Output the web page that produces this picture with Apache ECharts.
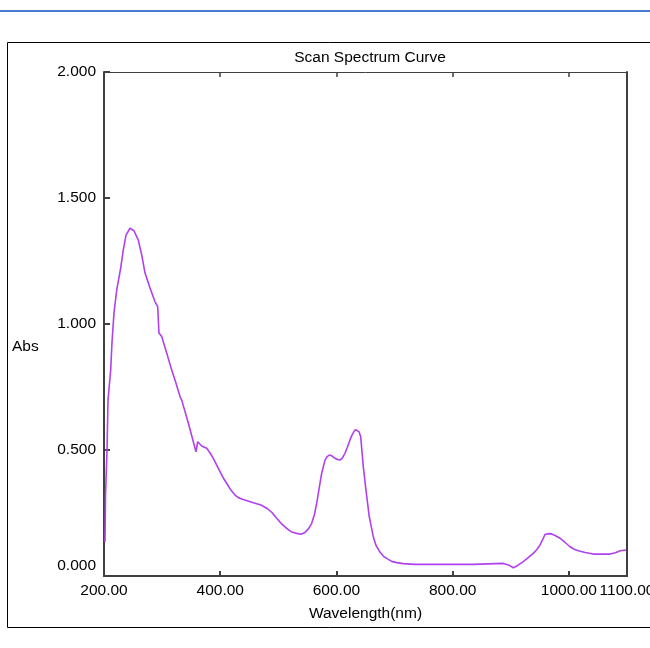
<!DOCTYPE html>
<html>
<head>
<meta charset="utf-8">
<script src="https://cdn.jsdelivr.net/npm/echarts@6/dist/echarts.min.js"></script>
<style>
  html, body { margin: 0; padding: 0; background: #fff; }
  #chart { width: 650px; height: 648px; }
</style>
</head>
<body>
<div id="chart"></div>
<script>
// wavelength (nm) and absorbance
const wavelength = [
  201.7, 202.6, 205.2, 206.9, 211.5, 213.8, 217.2, 221.9, 228.7, 233.2,
  237.9, 244.7, 251.6, 259.0, 264.9, 270.6, 279.2, 287.8, 292.4, 294.6,
  299.3, 307.9, 316.5, 322.2, 330.8, 333.7, 345.1, 353.7, 358.3, 361.2,
  368.1, 376.7, 382.0, 388.1, 393.5, 399.6, 405.0, 411.1, 418.0, 425.4,
  432.0, 439.7, 456.9, 470.0, 480.0, 489.0, 497.2, 505.0, 514.4, 522.0,
  531.6, 539.0, 545.9, 552.0, 557.4, 562.0, 566.0, 570.0, 574.6, 580.3,
  584.0, 587.7, 592.0, 597.5, 602.0, 606.1, 610.0, 614.7, 619.0, 623.3,
  627.0, 630.2, 633.0, 635.9, 639.0, 641.7, 646.2, 650.8, 656.5, 663.4,
  668.0, 674.9, 681.0, 689.2, 695.0, 703.7, 715.0, 735.2, 835.5, 838.4,
  887.1, 896.0, 904.3, 912.0, 921.5, 930.0, 938.7, 945.0, 950.3, 955.0,
  958.9, 964.0, 970.4, 977.0, 984.7, 993.0, 1001.9, 1009.0, 1016.2, 1028.0,
  1042.0, 1070.7, 1080.0, 1088.4, 1098.3
];
const absorbance = [
  0.135, 0.321, 0.500, 0.698, 0.817, 0.929, 1.044, 1.135, 1.222, 1.294,
  1.353, 1.380, 1.370, 1.333, 1.274, 1.202, 1.143, 1.088, 1.069, 0.964,
  0.950, 0.885, 0.817, 0.778, 0.712, 0.698, 0.607, 0.533, 0.493, 0.533,
  0.516, 0.507, 0.490, 0.467, 0.442, 0.414, 0.390, 0.368, 0.342, 0.321,
  0.310, 0.304, 0.291, 0.282, 0.269, 0.252, 0.229, 0.208, 0.189, 0.176,
  0.169, 0.166, 0.173, 0.188, 0.209, 0.243, 0.288, 0.345, 0.408, 0.460,
  0.474, 0.480, 0.477, 0.467, 0.462, 0.460, 0.468, 0.487, 0.512, 0.540,
  0.560, 0.573, 0.581, 0.582, 0.572, 0.553, 0.434, 0.341, 0.235, 0.156,
  0.122, 0.095, 0.078, 0.066, 0.058, 0.053, 0.049, 0.046, 0.046, 0.052,
  0.050, 0.044, 0.033, 0.042, 0.057, 0.073, 0.090, 0.105, 0.123, 0.145,
  0.165, 0.168, 0.167, 0.160, 0.150, 0.134, 0.116, 0.106, 0.100, 0.093,
  0.087, 0.087, 0.092, 0.100, 0.103
];

let myChart = echarts.init(document.getElementById("chart"));
let font = "Liberation Sans";
let axisColor = "#404040";
let fontSize = 15.5;

let option = {
  animation: false,
  title: {
    text: "Scan Spectrum Curve",
    left: 365,
    top: 45,
    textAlign: "center",
    textStyle: { fontFamily: font, fontSize: fontSize, fontWeight: "normal", color: "#000" },
  },
  graphic: [
    { type: "line", shape: { x1: 0, y1: 11, x2: 650, y2: 11 }, style: { stroke: "#4a7ad0", lineWidth: 2 } },
    { type: "rect", shape: { x: 7.5, y: 42.5, width: 700, height: 585 }, style: { fill: "none", stroke: "#000", lineWidth: 1 } },
    { type: "text", left: 12, top: 339, style: { text: "Abs", font: fontSize + "px " + font, fill: "#000" } },
  ],
  // label "1100.00" runs off the right edge, as in the original, so no auto shrinking
  grid: { left: 104, top: 72, width: 523, height: 504, outerBoundsMode: "none", containLabel: false },
  xAxis: [
    {
      type: "value",
      min: 200,
      max: 1100,
      interval: 200,
      name: "Wavelength(nm)",
      nameLocation: "middle",
      nameGap: 30,
      nameTextStyle: { fontFamily: font, fontSize: fontSize, color: "#000" },
      axisLine: { onZero: false, lineStyle: { color: axisColor, width: 2 } },
      axisTick: { inside: true, length: 5, lineStyle: { color: axisColor, width: 2 } },
      axisLabel: {
        fontFamily: font, fontSize: fontSize, color: "#000", margin: 7,
        formatter: (v) => v.toFixed(2),
      },
      splitLine: { show: false },
    },
    {
      type: "value",
      position: "top",
      min: 200,
      max: 1100,
      interval: 200,
      axisLine: { onZero: false, lineStyle: { color: axisColor, width: 1 } },
      axisTick: { inside: true, length: 5, lineStyle: { color: axisColor, width: 1.5 } },
      axisLabel: { show: false },
      splitLine: { show: false },
    },
  ],
  yAxis: [
    {
      type: "value",
      min: 0,
      max: 2,
      interval: 0.5,
      axisLine: { show: true, onZero: false, lineStyle: { color: axisColor, width: 2 } },
      axisTick: { show: true, inside: true, length: 6, lineStyle: { color: axisColor, width: 2 } },
      axisLabel: {
        fontFamily: font, fontSize: fontSize, color: "#000", margin: 8,
        formatter: (v) => (v === 0 ? "{z|0.000}" : v.toFixed(3)),
        rich: { z: { fontFamily: font, fontSize: fontSize, color: "#000", padding: [0, 0, 20, 0] } },
      },
      splitLine: { show: false },
    },
    {
      type: "value",
      position: "right",
      min: 0,
      max: 2,
      interval: 0.5,
      axisLine: { show: true, onZero: false, lineStyle: { color: axisColor, width: 2 } },
      axisTick: { show: false },
      axisLabel: { show: false },
      splitLine: { show: false },
    },
  ],
  series: [
    {
      type: "line",
      data: wavelength.map((w, i) => [w, absorbance[i]]),
      showSymbol: false,
      smooth: false,
      lineStyle: { color: "#b040f0", width: 1.6 },
    },
  ],
};
myChart.setOption(option);
</script>
</body>
</html>
